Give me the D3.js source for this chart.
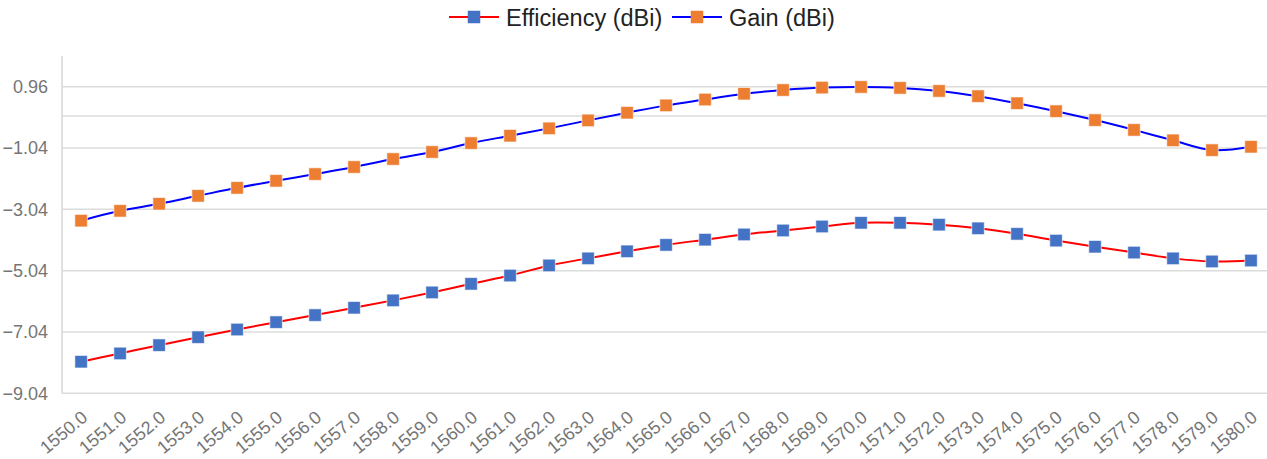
<!DOCTYPE html>
<html>
<head>
<meta charset="utf-8">
<script src="https://cdn.jsdelivr.net/npm/d3@7"></script>
<style>
  html, body { margin: 0; padding: 0; background: #fff; }
  svg { display: block; }
  text { font-family: "Liberation Sans", Arial, sans-serif; }
</style>
</head>
<body>
<svg id="chart" width="1267" height="459"></svg>
<script>
// ---- data ----
const frequencies = [1550,1551,1552,1553,1554,1555,1556,1557,1558,1559,1560,1561,1562,1563,1564,1565,1566,1567,1568,1569,1570,1571,1572,1573,1574,1575,1576,1577,1578,1579,1580];
const efficiency = [-8.01,-7.74,-7.47,-7.21,-6.96,-6.72,-6.49,-6.25,-6.01,-5.75,-5.47,-5.20,-4.87,-4.64,-4.41,-4.20,-4.03,-3.86,-3.73,-3.60,-3.48,-3.48,-3.54,-3.66,-3.84,-4.06,-4.26,-4.45,-4.64,-4.74,-4.71];
const gain = [-3.41,-3.09,-2.86,-2.60,-2.34,-2.11,-1.89,-1.66,-1.40,-1.17,-0.88,-0.64,-0.40,-0.14,0.11,0.35,0.54,0.73,0.85,0.93,0.95,0.92,0.82,0.65,0.42,0.16,-0.13,-0.45,-0.79,-1.11,-1.00];
const yTicks = [-9.04,-7.04,-5.04,-3.04,-1.04,0.96];
const seriesNames = ["Efficiency (dBi)", "Gain (dBi)"];

(function () {
// ---- layout ----
const svg = d3.select("#chart");
const pLeft = 62, pRight = 1267, pTop = 56, pBottom = 393.3;

const x = d3.scaleLinear().domain([1549.51, 1580.41]).range([pLeft, pRight]);
const y = d3.scaleLinear().domain([-9.04, 1.96]).range([pBottom, pTop]);

const series = [
  { name: seriesNames[0], values: efficiency, line: "#ff0000", marker: "#4472c4" },
  { name: seriesNames[1], values: gain, line: "#0000ff", marker: "#ed7d31" }
];

// gridlines
const grid = svg.append("g");
grid.selectAll("line").data(yTicks.concat([0])).enter().append("line")
  .attr("x1", pLeft).attr("x2", pRight)
  .attr("y1", d => y(d)).attr("y2", d => y(d))
  .attr("stroke", "#dcdcdc").attr("stroke-width", 1.5);
// left axis line
svg.append("line").attr("x1", pLeft).attr("x2", pLeft).attr("y1", pTop).attr("y2", pBottom)
  .attr("stroke", "#d6d6d6").attr("stroke-width", 1.5);

// y axis labels
const yAxis = d3.axisLeft(y).tickValues(yTicks).tickFormat(d3.format(".2f")).tickSize(0).tickPadding(14);
const yg = svg.append("g").attr("transform", `translate(${pLeft},0)`).call(yAxis);
yg.select(".domain").remove();
yg.selectAll("text").attr("fill", "#757575").style("font-size", "18px")
  .style("font-family", "'Liberation Sans', Arial, sans-serif");

// x axis labels
const xAxis = d3.axisBottom(x).tickValues(frequencies).tickFormat(d3.format(".1f")).tickSize(0);
const xg = svg.append("g").attr("transform", `translate(0,${pBottom})`).call(xAxis);
xg.select(".domain").remove();
xg.selectAll("text")
  .attr("fill", "#757575").style("font-size", "18px")
  .style("font-family", "'Liberation Sans', Arial, sans-serif")
  .attr("text-anchor", "end")
  .attr("dy", null).attr("y", 0)
  .attr("transform", "translate(7,26) rotate(-40)");

// lines and markers
const lineGen = d3.line().x((d, i) => x(frequencies[i])).y(d => y(d)).curve(d3.curveCatmullRom.alpha(0.5));
series.forEach(s => {
  svg.append("path").datum(s.values).attr("d", lineGen)
    .attr("fill", "none").attr("stroke", s.line).attr("stroke-width", 2);
});
const ms = 12.5;
series.forEach(s => {
  svg.append("g").selectAll("rect").data(s.values).enter().append("rect")
    .attr("x", (d, i) => x(frequencies[i]) - ms / 2)
    .attr("y", d => y(d) - ms / 2)
    .attr("width", ms).attr("height", ms)
    .attr("fill", s.marker)
    .attr("stroke", "#fff").attr("stroke-opacity", 0.6).attr("stroke-width", 1);
});

// legend
const legendItems = [
  { s: series[0], x0: 449 },
  { s: series[1], x0: 672 }
];
const lg = svg.append("g");
legendItems.forEach(it => {
  const g = lg.append("g").attr("transform", `translate(${it.x0},17)`);
  g.append("line").attr("x1", 0).attr("x2", 50).attr("y1", 0).attr("y2", 0)
    .attr("stroke", it.s.line).attr("stroke-width", 2);
  g.append("rect").attr("x", 25 - ms / 2).attr("y", -ms / 2).attr("width", ms).attr("height", ms)
    .attr("fill", it.s.marker);
  g.append("text").attr("x", 57).attr("y", 8.5).text(it.s.name)
    .attr("fill", "#222").style("font-size", "23.5px");
});
})();
</script>
</body>
</html>
